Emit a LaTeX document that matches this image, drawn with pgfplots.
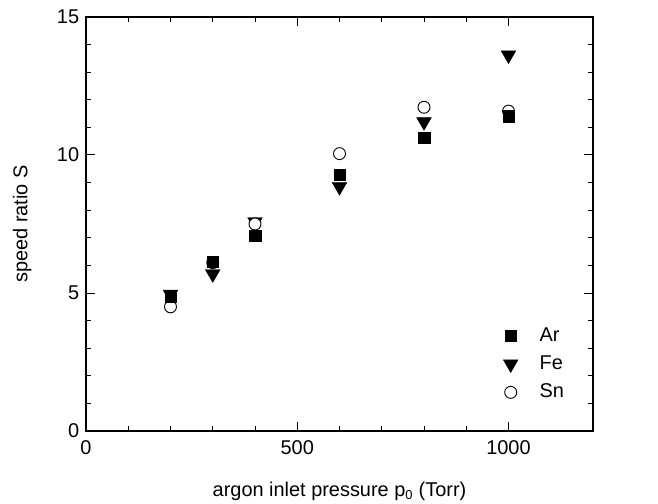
\documentclass[border=0pt]{standalone}
\usepackage{fontspec}
\setmainfont{Liberation Sans}
\usepackage{pgfplots}
\pgfplotsset{compat=1.18}
\begin{document}
\fontsize{20}{24}\selectfont
\begin{tikzpicture}
\begin{axis}[
  name=ax,
  scale only axis, width=507bp, height=414bp,
  xmin=0, xmax=1200, ymin=0, ymax=15,
  xtick={0,500,1000}, minor x tick num=4,
  ytick={0,5,10,15}, minor y tick num=4,
  tick align=inside,
  major tick length=9bp, minor tick length=5bp,
  axis line style={line width=1.2bp},
  every tick/.style={black, line width=1bp},
  tick label style={font=\fontsize{20}{24}\selectfont},
  /pgf/number format/assume math mode=true,
  /pgf/number format/1000 sep={},
  xlabel={argon inlet pressure p$_{\textrm{\fontsize{13}{15}\selectfont 0}}$ (Torr)},
  ylabel={speed ratio S},
  label style={font=\fontsize{20}{24}\selectfont},
  xticklabel style={yshift=-3bp},
  xlabel style={yshift=-14bp},
  ylabel style={yshift=12bp},
  legend style={draw=none, fill=none, at={(axis cs:974,3.9)}, anchor=north west,
    font=\fontsize{20}{24}\selectfont, row sep=7.5bp},
  legend cell align=left,
  legend image code/.code={\draw[#1] plot coordinates {(10bp,0bp)}; \path[draw=none,fill=none] (0bp,-9bp) rectangle (37bp,9bp);},
]
\addplot[only marks, mark=triangle*, mark size=8.5bp, mark options={rotate=180, fill=black}, forget plot]
  coordinates {(200,4.95) (300,5.69) (400,7.58) (600,8.85) (800,11.2) (1000,13.62)};
\addplot[only marks, mark=*, mark size=6bp, mark options={fill=white, line width=0.9bp}, forget plot]
  coordinates {(200,4.5) (300,6.1) (400,7.5) (600,10.05) (800,11.73) (1000,11.59)};
\addplot[only marks, mark=square*, mark size=5.8bp, mark options={fill=black}, forget plot]
  coordinates {(200,4.89) (300,6.13) (400,7.08) (600,9.28) (800,10.62) (1000,11.41)};
\addlegendimage{only marks, mark=square*, mark size=5.8bp, mark options={fill=black}}
\addlegendentry{Ar}
\addlegendimage{only marks, mark=triangle*, mark size=8.5bp, mark options={rotate=180, fill=black}}
\addlegendentry{Fe}
\addlegendimage{only marks, mark=*, mark size=6bp, mark options={fill=white, line width=0.9bp}}
\addlegendentry{Sn}
\end{axis}
\pgfresetboundingbox
\path ([shift={(-86bp,-73bp)}]ax.south west) rectangle ([shift={(65bp,17bp)}]ax.north east);
\end{tikzpicture}
\end{document}
